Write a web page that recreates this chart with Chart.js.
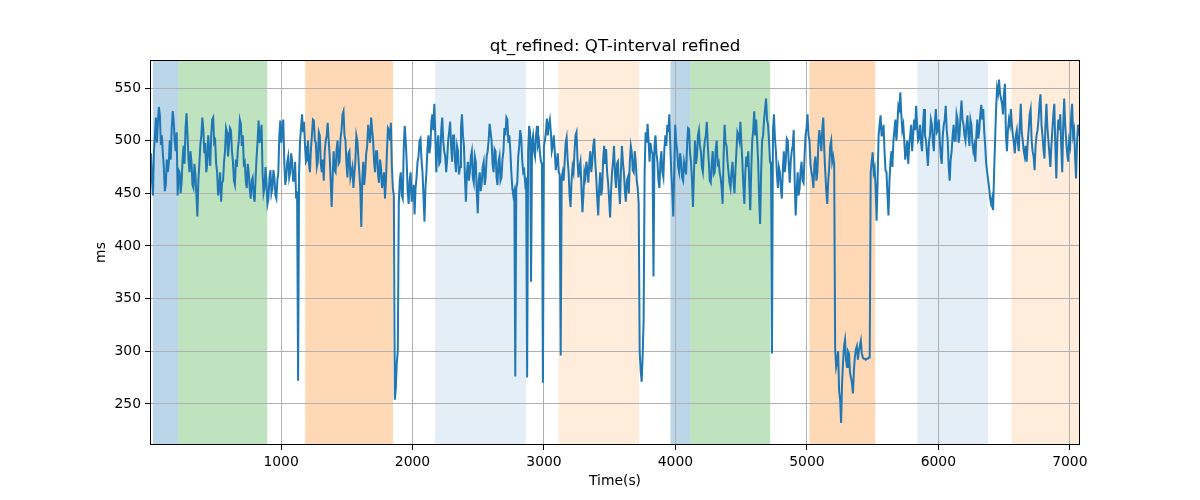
<!DOCTYPE html>
<html><head><meta charset="utf-8">
<script src="https://cdn.jsdelivr.net/npm/chart.js@4/dist/chart.umd.min.js"></script>
<style>html,body{margin:0;padding:0;background:#fff}#wrap{width:1200px;height:500px}</style>
</head><body><div id="wrap"><canvas id="c" width="1200" height="500"></canvas></div>
<script>
const chartTitle = 'qt_refined: QT-interval refined';
const xLabel = 'Time(s)';
const yLabel = 'ms';
const startTime = 3;
const sampleStep = 15.02;
// samples read at every sampleStep seconds
const qtValues = [
470,462,490,522,518,524,505,475,458,470,
500,512,519,490,448,470,460,495,512,505,
470,480,455,468,428,478,505,511,498,478,
490,505,522,500,470,455,442,462,490,508,
496,510,480,458,475,500,516,505,480,455,
470,445,465,442,485,519,505,470,455,460,
445,472,455,465,445,470,519,512,480,465,
485,470,480,462,445,272,500,525,518,480,
500,470,505,519,498,480,505,470,462,500,
517,485,437,490,470,500,480,510,528,500,
465,490,470,455,480,500,470,418,480,470,
495,505,522,500,470,490,460,475,455,445,
490,510,517,455,254,290,440,470,445,514,
480,440,470,450,430,465,485,502,470,423,
470,505,495,525,535,470,505,480,522,490,
470,500,518,480,505,470,490,475,525,495,
442,480,470,490,460,480,431,470,460,480,
465,490,516,500,470,490,458,485,465,490,
505,520,505,470,448,276,460,495,503,470,
460,275,514,366,505,485,514,500,480,270,
500,521,515,508,495,490,480,470,296,470,
480,503,470,437,475,490,508,465,480,432,
470,480,460,490,480,502,465,429,470,455,
495,492,460,427,470,495,455,480,440,495,
470,442,465,480,489,470,480,455,300,271,
330,508,516,480,490,371,505,480,455,490,
465,505,515,525,470,428,515,490,470,480,
462,475,495,511,480,437,500,485,510,490,
470,500,518,480,460,490,470,500,480,465,
440,515,495,470,455,480,450,490,505,518,
480,440,485,490,434,500,528,520,480,421,
500,520,540,515,480,298,525,490,455,470,
445,490,480,500,460,490,510,429,470,455,
480,460,505,525,500,470,455,485,470,510,
490,522,470,440,475,500,485,302,290,262,
232,290,311,285,298,275,260,295,305,300,
310,294,293,293,294,470,489,474,424,505,
524,505,490,470,429,480,475,510,500,533,
546,510,500,490,478,505,490,520,533,500,
515,490,530,500,476,505,515,490,530,510,
500,478,515,533,500,462,490,515,500,520,
505,538,515,500,524,495,515,490,480,520,
510,534,530,495,470,455,440,434,500,550,
558,540,525,554,490,520,530,505,488,510,
490,535,500,485,480,510,530,490,472,505,
520,544,505,483,535,500,475,510,535,464,
520,525,470,540,500,480,495,535,510,464,
515,517
];
// samples read half-way between consecutive qtValues samples
const qtMidValues = [
488,448,505,498,532,496,488,452,482,478,
482,528,500,508,472,450,482,478,526,482,
490,458,478,448,462,496,522,488,470,505,
476,520,498,478,448,470,460,480,512,485,
512,490,462,482,492,520,495,478,462,478,
455,462,448,465,500,498,515,450,475,440,
465,450,472,448,462,505,498,520,458,480,
465,488,462,480,452,468,512,508,495,482,
478,492,520,500,475,508,478,482,490,505,
500,462,465,472,492,478,502,525,505,478,
488,465,475,468,505,485,455,462,458,488,
515,498,510,480,490,468,482,455,470,462,
512,500,475,448,265,300,462,448,492,500,
452,462,442,458,455,480,500,482,448,455,
492,488,518,510,505,495,478,510,500,485,
482,508,495,505,480,495,468,512,505,465,
470,462,485,465,485,450,462,452,475,458,
485,500,508,478,492,465,480,462,482,512,
522,498,490,455,452,455,485,510,482,472,
465,490,508,500,490,505,496,488,478,495,
508,505,520,490,505,472,488,468,465,462,
498,482,448,462,470,505,482,475,455,448,
465,472,480,470,495,480,445,455,448,482,
478,470,445,452,480,468,478,455,470,480,
452,462,450,495,472,490,462,440,282,295,
470,498,500,498,488,495,488,462,480,470,
492,495,508,495,452,472,498,475,488,465,
480,468,512,488,462,470,478,505,495,475,
490,505,495,462,478,468,492,478,470,455,
485,498,480,460,470,462,472,508,500,498,
458,470,475,460,472,510,505,500,445,470,
505,530,520,500,478,510,502,468,475,455,
472,470,502,478,480,495,462,452,448,472,
462,485,512,505,478,465,478,462,498,500,
512,490,452,462,495,480,478,285,300,255,
270,305,292,300,280,270,282,302,292,305,
298,293,292,293,294,480,470,455,462,515,
505,515,472,448,462,490,500,520,515,530,
525,515,482,500,495,515,505,510,515,502,
498,515,505,488,498,520,498,518,508,520,
485,505,520,510,475,482,505,500,525,498,
525,520,505,515,505,520,498,495,505,502,
525,520,508,478,462,445,445,470,530,545,
545,535,545,505,510,515,515,498,505,498,
515,508,490,495,498,525,500,485,495,510,
535,515,492,515,512,488,495,525,495,500,
510,495,515,515,488,500,522,505,485,498,
505
];
const xTicks = [1000, 2000, 3000, 4000, 5000, 6000, 7000];
const yTicks = [250, 300, 350, 400, 450, 500, 550];
const yMin = 211, yMax = 576.6;
const spanStarts = [25, 218, 1183, 2172, 3109, 3962, 4112, 5020, 5840, 6556];
const spanEnds   = [218, 895, 1852, 2863, 3723, 4112, 4721, 5520, 6378, 7090];
const spanColors = [
  'rgba(31,119,180,0.3)', 'rgba(44,160,44,0.3)', 'rgba(255,127,14,0.3)',
  'rgba(31,119,180,0.12)', 'rgba(255,127,14,0.15)',
  'rgba(31,119,180,0.3)', 'rgba(44,160,44,0.3)', 'rgba(255,127,14,0.3)',
  'rgba(31,119,180,0.12)', 'rgba(255,127,14,0.15)'
];

const points = [];
qtValues.forEach((v, i) => {
  points.push({x: startTime + i * sampleStep, y: v});
  if (i < qtMidValues.length) points.push({x: startTime + (i + 0.5) * sampleStep, y: qtMidValues[i]});
});
const xMin = points[0].x, xMax = points[points.length - 1].x;
const FONT = '"DejaVu Sans", sans-serif';

const decor = {
  id: 'decor',
  beforeDraw(chart) {
    const {ctx, chartArea: a, scales: {x}} = chart;
    ctx.save();
    ctx.fillStyle = '#fff';
    ctx.fillRect(0, 0, chart.width, chart.height);
    ctx.beginPath();
    ctx.rect(a.left, a.top, a.right - a.left, a.bottom - a.top);
    ctx.clip();
    spanStarts.forEach((s, k) => {
      const x0 = x.getPixelForValue(s), x1 = x.getPixelForValue(spanEnds[k]);
      ctx.fillStyle = spanColors[k];
      ctx.fillRect(x0, a.top, x1 - x0, a.bottom - a.top);
    });
    ctx.restore();
  },
  afterDraw(chart) {
    const {ctx, chartArea: a} = chart;
    ctx.save();
    ctx.strokeStyle = '#000';
    ctx.lineWidth = 1;
    ctx.strokeRect(Math.round(a.left) + 0.5, Math.round(a.top) + 0.5,
                   Math.round(a.right - a.left) - 1, Math.round(a.bottom - a.top) - 1);
    ctx.fillStyle = '#000';
    ctx.font = '16.7px ' + FONT;
    ctx.textAlign = 'center';
    ctx.textBaseline = 'alphabetic';
    ctx.fillText(chartTitle, (a.left + a.right) / 2, 51);
    ctx.restore();
  }
};

new Chart(document.getElementById('c'), {
  type: 'line',
  data: {datasets: [{
    data: points,
    borderColor: '#1f77b4',
    borderWidth: 2,
    pointRadius: 0,
    tension: 0,
    fill: false
  }]},
  options: {
    responsive: false,
    animation: false,
    devicePixelRatio: 1,
    layout: {padding: {left: 85, right: 120, top: 60, bottom: 0}},
    plugins: {legend: {display: false}, title: {display: false}, tooltip: {enabled: false}},
    scales: {
      x: {
        type: 'linear', min: xMin, max: xMax,
        afterBuildTicks: s => { s.ticks = xTicks.map(v => ({value: v})); },
        afterFit: s => { s.height = 55; },
        grid: {color: '#b0b0b0', lineWidth: 1, tickColor: '#000', tickLength: 5, drawTicks: true},
        border: {display: false},
        ticks: {color: '#000', padding: 4, maxRotation: 0, autoSkip: false,
                font: {family: FONT, size: 13.9}, callback: v => String(v)},
        title: {display: true, text: xLabel, color: '#000', font: {family: FONT, size: 13.9},
                padding: {top: 0, bottom: 10}}
      },
      y: {
        type: 'linear', min: yMin, max: yMax,
        afterBuildTicks: s => { s.ticks = yTicks.map(v => ({value: v})); },
        afterFit: s => { s.width = 65; },
        grid: {color: '#b0b0b0', lineWidth: 1, tickColor: '#000', tickLength: 5, drawTicks: true},
        border: {display: false},
        ticks: {color: '#000', padding: 4, autoSkip: false,
                font: {family: FONT, size: 13.9}, callback: v => String(v)},
        title: {display: true, text: yLabel, color: '#000', font: {family: FONT, size: 13.9},
                padding: {top: 8, bottom: 0}}
      }
    }
  },
  plugins: [decor]
});
</script></body></html>
